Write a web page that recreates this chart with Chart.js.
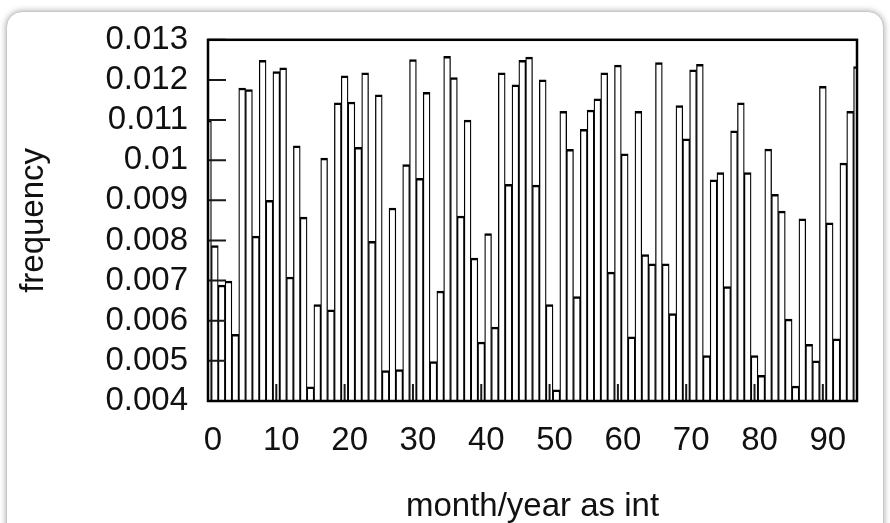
<!DOCTYPE html>
<html>
<head>
<meta charset="utf-8">
<title>frequency by month/year</title>
<script src="https://cdn.jsdelivr.net/npm/chart.js@4.4.1/dist/chart.umd.min.js"></script>
<style>
  html, body { margin: 0; padding: 0; background: #fff; overflow: hidden; }
  .frame {
    position: absolute; left: 6px; top: 11px; width: 876px; height: 600px;
    border: 1px solid #c8c8c8; border-radius: 16px;
    box-shadow: 0 0 6px rgba(0, 0, 0, 0.35); background: #fff;
  }
  #freqChart { position: absolute; left: 0; top: 0; }
</style>
</head>
<body>
<div class="frame"></div>
<canvas id="freqChart" width="890" height="523"></canvas>
<script>
// frequency of each month/year bin
const frequency = [
  0.0110, 0.00787, 0.00689, 0.00699, 0.00566, 0.0118, 0.01176, 0.00811, 0.01249, 0.0090,
  0.01221, 0.01230, 0.00709, 0.01036, 0.00858, 0.00435, 0.0064, 0.01005, 0.00627, 0.01143,
  0.0121, 0.01145, 0.01032, 0.01218, 0.00798, 0.01163, 0.00476, 0.00881, 0.00478, 0.00989,
  0.01251, 0.00955, 0.01169, 0.00498, 0.00674, 0.01259, 0.01206, 0.00861, 0.0110, 0.00756,
  0.00547, 0.00817, 0.00584, 0.01218, 0.0094, 0.01188, 0.01249, 0.01257, 0.00938, 0.0120,
  0.0064, 0.00428, 0.01122, 0.01027, 0.0066, 0.01077, 0.01125, 0.01153, 0.01218, 0.00721,
  0.01237, 0.01016, 0.0056, 0.01122, 0.00765, 0.00742, 0.01243, 0.00742, 0.00618, 0.01136,
  0.01053, 0.01225, 0.01239, 0.00513, 0.00951, 0.00969, 0.00685, 0.01073, 0.01143, 0.00969,
  0.00513, 0.00464, 0.01028, 0.00915, 0.00873, 0.00604, 0.00437, 0.00854, 0.00541, 0.0050,
  0.01184, 0.00844, 0.00555, 0.00993, 0.01122, 0.01233
];
// month/year index of each bin
const monthIndex = frequency.map((_, i) => i);

const xTickValues = [0, 10, 20, 30, 40, 50, 60, 70, 80, 90];
const xTickLabels = ['0', '10', '20', '30', '40', '50', '60', '70', '80', '90'];
const yTickValues = [0.004, 0.005, 0.006, 0.007, 0.008, 0.009, 0.010, 0.011, 0.012, 0.013];
const yTickLabels = ['0.004', '0.005', '0.006', '0.007', '0.008', '0.009', '0.01', '0.011', '0.012', '0.013'];

const textFont = { family: "'Liberation Sans', Arial, sans-serif", size: 33 };

// gnuplot-like box border with inward tick marks
const plotFrame = {
    id: 'plotFrame',
    afterDatasetsDraw(chart) {
        const { ctx, chartArea: a, scales: { x, y } } = chart;
        ctx.save();
        ctx.strokeStyle = '#1a1a1a';
        ctx.lineWidth = 2;
        ctx.beginPath();
        y.ticks.forEach(t => {
            const py = y.getPixelForValue(t.value);
            ctx.moveTo(a.left, py);
            ctx.lineTo(a.left + 18, py);
        });
        x.ticks.forEach(t => {
            const px = x.getPixelForValue(t.value);
            ctx.moveTo(px, a.bottom);
            ctx.lineTo(px, a.bottom - 17);
        });
        ctx.stroke();
        ctx.strokeStyle = '#000';
        ctx.lineWidth = 2.5;
        ctx.strokeRect(a.left, a.top, a.right - a.left, a.bottom - a.top);
        ctx.restore();
    }
};

new Chart(document.getElementById('freqChart').getContext('2d'), {
    type: 'bar',
    data: {
        datasets: [{
            data: monthIndex.map((m, i) => ({ x: m, y: frequency[i] })),
            backgroundColor: '#fff',
            borderColor: '#000',
            borderWidth: { top: 2.5, left: 1.3, right: 1.3, bottom: 0 },
            barPercentage: 1,
            categoryPercentage: 1,
            clip: 0
        }]
    },
    options: {
        responsive: false,
        animation: false,
        layout: { padding: { left: 10, right: 33, top: 34, bottom: -4 } },
        plugins: { legend: { display: false }, tooltip: { enabled: false } },
        scales: {
            x: {
                type: 'linear',
                min: 0, max: 95,
                offset: false,
                grid: { display: false, drawTicks: false, offset: false },
                border: { display: false },
                afterBuildTicks: s => { s.ticks = xTickValues.map(v => ({ value: v })); },
                afterFit: s => { s.height = 126; },
                ticks: {
                    callback: (v, i) => xTickLabels[i],
                    color: '#111', font: textFont, padding: 20, labelOffset: 5,
                    maxRotation: 0, autoSkip: false
                },
                title: {
                    display: true, text: 'month/year as int',
                    color: '#111', font: textFont, padding: { top: 0, bottom: 0 }
                }
            },
            y: {
                min: 0.004, max: 0.013,
                grid: { display: false, drawTicks: false },
                border: { display: false },
                afterBuildTicks: s => { s.ticks = yTickValues.map(v => ({ value: v })); },
                afterFit: s => { s.width = 198; },
                ticks: {
                    callback: (v, i) => yTickLabels[i],
                    color: '#111', font: textFont, padding: 20, autoSkip: false
                },
                title: {
                    display: true, text: 'frequency',
                    color: '#111', font: textFont, padding: { top: 4, bottom: 4 }
                }
            }
        }
    },
    plugins: [plotFrame]
});
</script>
</body>
</html>
